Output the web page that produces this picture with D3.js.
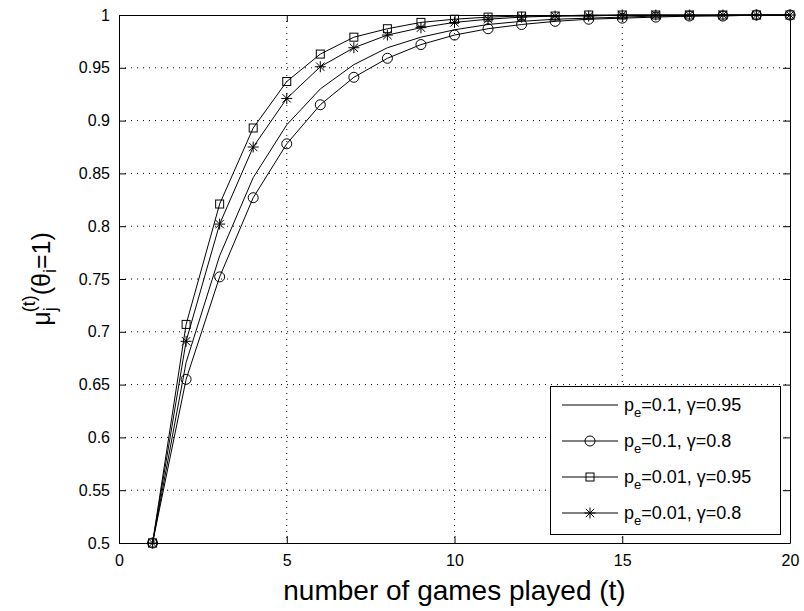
<!DOCTYPE html>
<html>
<head>
<meta charset="utf-8">
<script src="https://cdn.jsdelivr.net/npm/d3@7"></script>
<style>
  body { margin: 0; background: #fff; }
  svg { display: block; font-family: "Liberation Sans", Arial, Helvetica, sans-serif; }
</style>
</head>
<body>
<div id="chart"></div>
<script>
// Data
var games = d3.range(1, 21);
var plain095 = [0.5, 0.671, 0.772, 0.846, 0.896, 0.930, 0.953, 0.969, 0.979, 0.986, 0.991, 0.994, 0.996, 0.997, 0.998, 0.999, 0.999, 1, 1, 1];
var circle08 = [0.5, 0.655, 0.752, 0.827, 0.878, 0.915, 0.941, 0.959, 0.972, 0.981, 0.987, 0.991, 0.994, 0.996, 0.997, 0.998, 0.999, 0.999, 1, 1];
var square095 = [0.5, 0.707, 0.821, 0.893, 0.937, 0.963, 0.979, 0.987, 0.993, 0.996, 0.998, 0.999, 0.999, 1, 1, 1, 1, 1, 1, 1];
var star08 = [0.5, 0.691, 0.802, 0.875, 0.921, 0.951, 0.969, 0.981, 0.988, 0.993, 0.996, 0.998, 0.999, 0.999, 1, 1, 1, 1, 1, 1];

var xTicks = [0, 5, 10, 15, 20];
var yTicks = [0.5, 0.55, 0.6, 0.65, 0.7, 0.75, 0.8, 0.85, 0.9, 0.95, 1];
var yTickLabels = ["0.5", "0.55", "0.6", "0.65", "0.7", "0.75", "0.8", "0.85", "0.9", "0.95", "1"];

var series = [
  { values: plain095, marker: "none",   pe: "0.1",  gamma: "0.95" },
  { values: circle08, marker: "circle", pe: "0.1",  gamma: "0.8" },
  { values: square095, marker: "square", pe: "0.01", gamma: "0.95" },
  { values: star08,   marker: "star",   pe: "0.01", gamma: "0.8" }
];

// SVG area
var svgWidth = 804;
var svgHeight = 611;
var margin = { top: 15, right: 14, bottom: 68, left: 119 };
var chartWidth = svgWidth - margin.left - margin.right;
var chartHeight = svgHeight - margin.top - margin.bottom;

var svg = d3.select("#chart").append("svg")
  .attr("width", svgWidth)
  .attr("height", svgHeight);

var chartGroup = svg.append("g")
  .attr("transform", `translate(${margin.left}, ${margin.top})`);

var x = d3.scaleLinear().domain([0, 20]).range([0, chartWidth]);
var y = d3.scaleLinear().domain([0.5, 1]).range([chartHeight, 0]);

// dotted grid
chartGroup.append("g").selectAll("line").data(xTicks.slice(1, -1)).enter()
  .append("line")
  .attr("x1", d => x(d)).attr("x2", d => x(d))
  .attr("y1", 0).attr("y2", chartHeight)
  .attr("stroke", "#000").attr("stroke-width", 1)
  .attr("stroke-dasharray", "1,5");
chartGroup.append("g").selectAll("line").data(yTicks.slice(1, -1)).enter()
  .append("line")
  .attr("y1", d => y(d)).attr("y2", d => y(d))
  .attr("x1", 0).attr("x2", chartWidth)
  .attr("stroke", "#000").attr("stroke-width", 1)
  .attr("stroke-dasharray", "1,5");

// axes, ticks inward on all four sides
var tickLen = 7;
var xAxisB = d3.axisBottom(x).tickValues(xTicks).tickSize(-tickLen).tickPadding(12);
var xAxisT = d3.axisTop(x).tickValues(xTicks).tickSize(-tickLen).tickFormat("");
var yAxisL = d3.axisLeft(y).tickValues(yTicks).tickSize(-tickLen).tickPadding(9)
  .tickFormat((d, i) => yTickLabels[i]);
var yAxisR = d3.axisRight(y).tickValues(yTicks).tickSize(-tickLen).tickFormat("");

function styleAxis(g) {
  g.selectAll("path").attr("stroke", "#000").attr("stroke-width", 1);
  g.selectAll("line").attr("stroke", "#000").attr("stroke-width", 1);
  g.selectAll("text").attr("fill", "#000").attr("font-size", "16px")
    .attr("font-family", "Liberation Sans, Arial, sans-serif");
}
chartGroup.append("g").attr("transform", `translate(0, ${chartHeight})`)
  .call(xAxisB).call(g => g.select(".domain").attr("d", `M0.5,0.5H${chartWidth + 0.5}`)).call(styleAxis);
chartGroup.append("g").call(xAxisT).call(g => g.select(".domain").attr("d", `M0.5,0.5H${chartWidth + 0.5}`)).call(styleAxis);
chartGroup.append("g").call(yAxisL).call(g => g.select(".domain").attr("d", `M0.5,0.5V${chartHeight + 0.5}`)).call(styleAxis);
chartGroup.append("g").attr("transform", `translate(${chartWidth}, 0)`)
  .call(yAxisR).call(g => g.select(".domain").attr("d", `M0.5,0.5V${chartHeight + 0.5}`)).call(styleAxis);

// marker drawing
function drawMarker(g, type, cx, cy) {
  if (type === "circle") {
    g.append("circle").attr("cx", cx).attr("cy", cy).attr("r", 5)
      .attr("fill", "none").attr("stroke", "#000").attr("stroke-width", 1);
  } else if (type === "square") {
    g.append("rect").attr("x", cx - 4).attr("y", cy - 4).attr("width", 8).attr("height", 8)
      .attr("fill", "none").attr("stroke", "#000").attr("stroke-width", 1);
  } else if (type === "star") {
    var s = 5.5, dgl = 4.2;
    g.append("path")
      .attr("d", `M${cx - s},${cy}H${cx + s}M${cx},${cy - s}V${cy + s}` +
        `M${cx - dgl},${cy - dgl}L${cx + dgl},${cy + dgl}M${cx - dgl},${cy + dgl}L${cx + dgl},${cy - dgl}`)
      .attr("stroke", "#000").attr("stroke-width", 1).attr("fill", "none");
  }
}

var line = d3.line().x((d, i) => x(games[i])).y(d => y(d));

series.forEach(function (s) {
  var g = chartGroup.append("g");
  g.append("path").datum(s.values)
    .attr("d", line)
    .attr("fill", "none").attr("stroke", "#000").attr("stroke-width", 1);
  if (s.marker !== "none") {
    s.values.forEach(function (v, i) { drawMarker(g, s.marker, x(games[i]), y(v)); });
  }
});

// axis labels
svg.append("text")
  .attr("x", margin.left + chartWidth / 2)
  .attr("y", 600)
  .attr("text-anchor", "middle")
  .attr("font-size", "28px")
  .text("number of games played (t)");

var yLab = svg.append("text")
  .attr("transform", `translate(50, ${margin.top + chartHeight / 2}) rotate(-90)`)
  .attr("text-anchor", "middle")
  .attr("font-size", "25px");
yLab.append("tspan").text("\u03bc");
yLab.append("tspan").attr("font-size", "18px").attr("dy", 6).text("j");
yLab.append("tspan").attr("font-size", "18px").attr("dx", -5).attr("dy", -21).text("(t)");
yLab.append("tspan").attr("dy", 15).text("(\u03b8");
yLab.append("tspan").attr("font-size", "18px").attr("dy", 6).text("i");
yLab.append("tspan").attr("dy", -6).text("=1)");

// legend
var legX = 550, legY = 386, legW = 230, legH = 148, rowH = 36;
var legend = svg.append("g");
legend.append("rect")
  .attr("x", legX + 0.5).attr("y", legY + 0.5)
  .attr("width", legW).attr("height", legH)
  .attr("fill", "#fff").attr("stroke", "#000").attr("stroke-width", 1);

series.forEach(function (s, i) {
  var cy = legY + 19 + i * rowH;
  legend.append("line")
    .attr("x1", legX + 12).attr("x2", legX + 68)
    .attr("y1", cy).attr("y2", cy)
    .attr("stroke", "#000").attr("stroke-width", 1);
  drawMarker(legend, s.marker, legX + 40, cy);
  var t = legend.append("text")
    .attr("x", legX + 74).attr("y", cy + 6)
    .attr("font-size", "18px");
  t.append("tspan").text("p");
  t.append("tspan").attr("font-size", "13px").attr("dy", 6).text("e");
  t.append("tspan").attr("dy", -6).text("=" + s.pe + ", \u03b3=" + s.gamma);
});
</script>
</body>
</html>
